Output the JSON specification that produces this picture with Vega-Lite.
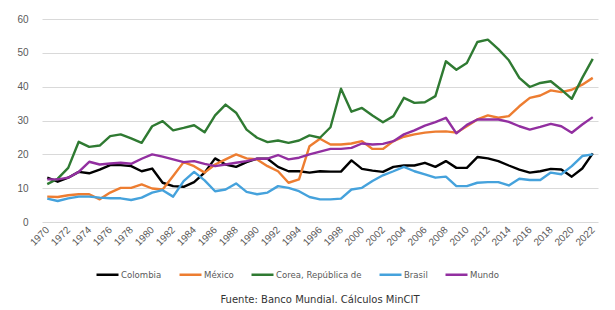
{
  "$schema": "https://vega.github.io/schema/vega-lite/v6.json",
  "autosize": "none",
  "width": 556,
  "height": 203,
  "padding": {"left": 42, "top": 19, "right": 17, "bottom": 88},
  "background": "white",
  "config": {"view": {"stroke": null}},
  "title": {"text": "Fuente: Banco Mundial. Cálculos MinCIT", "orient": "bottom", "anchor": "middle", "font": "DejaVu Sans", "fontSize": 10, "fontWeight": "normal", "color": "#333333", "offset": 15, "frame": "group"},
  "data": {"values": [
{"year":1970,"country":"Colombia","value":13.1},{"year":1970,"country":"México","value":7.5},{"year":1970,"country":"Corea, República de","value":11.2},{"year":1970,"country":"Brasil","value":6.9},{"year":1970,"country":"Mundo","value":12.6},
{"year":1971,"country":"Colombia","value":11.9},{"year":1971,"country":"México","value":7.4},{"year":1971,"country":"Corea, República de","value":12.8},{"year":1971,"country":"Brasil","value":6.2},{"year":1971,"country":"Mundo","value":12.6},
{"year":1972,"country":"Colombia","value":13.1},{"year":1972,"country":"México","value":7.9},{"year":1972,"country":"Corea, República de","value":16.0},{"year":1972,"country":"Brasil","value":7.0},{"year":1972,"country":"Mundo","value":13.1},
{"year":1973,"country":"Colombia","value":14.8},{"year":1973,"country":"México","value":8.2},{"year":1973,"country":"Corea, República de","value":23.7},{"year":1973,"country":"Brasil","value":7.5},{"year":1973,"country":"Mundo","value":14.8},
{"year":1974,"country":"Colombia","value":14.4},{"year":1974,"country":"México","value":8.2},{"year":1974,"country":"Corea, República de","value":22.2},{"year":1974,"country":"Brasil","value":7.5},{"year":1974,"country":"Mundo","value":17.8},
{"year":1975,"country":"Colombia","value":15.5},{"year":1975,"country":"México","value":6.7},{"year":1975,"country":"Corea, República de","value":22.6},{"year":1975,"country":"Brasil","value":7.2},{"year":1975,"country":"Mundo","value":17.0},
{"year":1976,"country":"Colombia","value":16.8},{"year":1976,"country":"México","value":8.7},{"year":1976,"country":"Corea, República de","value":25.4},{"year":1976,"country":"Brasil","value":7.0},{"year":1976,"country":"Mundo","value":17.3},
{"year":1977,"country":"Colombia","value":16.8},{"year":1977,"country":"México","value":10.1},{"year":1977,"country":"Corea, República de","value":25.9},{"year":1977,"country":"Brasil","value":7.0},{"year":1977,"country":"Mundo","value":17.5},
{"year":1978,"country":"Colombia","value":16.5},{"year":1978,"country":"México","value":10.1},{"year":1978,"country":"Corea, República de","value":24.7},{"year":1978,"country":"Brasil","value":6.5},{"year":1978,"country":"Mundo","value":17.2},
{"year":1979,"country":"Colombia","value":15.0},{"year":1979,"country":"México","value":11.1},{"year":1979,"country":"Corea, República de","value":23.4},{"year":1979,"country":"Brasil","value":7.2},{"year":1979,"country":"Mundo","value":18.7},
{"year":1980,"country":"Colombia","value":15.8},{"year":1980,"country":"México","value":9.9},{"year":1980,"country":"Corea, República de","value":28.3},{"year":1980,"country":"Brasil","value":8.7},{"year":1980,"country":"Mundo","value":20.0},
{"year":1981,"country":"Colombia","value":11.6},{"year":1981,"country":"México","value":9.6},{"year":1981,"country":"Corea, República de","value":29.8},{"year":1981,"country":"Brasil","value":9.4},{"year":1981,"country":"Mundo","value":19.3},
{"year":1982,"country":"Colombia","value":10.6},{"year":1982,"country":"México","value":13.6},{"year":1982,"country":"Corea, República de","value":27.1},{"year":1982,"country":"Brasil","value":7.5},{"year":1982,"country":"Mundo","value":18.5},
{"year":1983,"country":"Colombia","value":10.4},{"year":1983,"country":"México","value":17.7},{"year":1983,"country":"Corea, República de","value":27.8},{"year":1983,"country":"Brasil","value":12.1},{"year":1983,"country":"Mundo","value":17.7},
{"year":1984,"country":"Colombia","value":11.8},{"year":1984,"country":"México","value":16.5},{"year":1984,"country":"Corea, República de","value":28.6},{"year":1984,"country":"Brasil","value":14.8},{"year":1984,"country":"Mundo","value":18.0},
{"year":1985,"country":"Colombia","value":14.6},{"year":1985,"country":"México","value":14.6},{"year":1985,"country":"Corea, República de","value":26.5},{"year":1985,"country":"Brasil","value":12.3},{"year":1985,"country":"Mundo","value":17.2},
{"year":1986,"country":"Colombia","value":18.8},{"year":1986,"country":"México","value":17.0},{"year":1986,"country":"Corea, República de","value":31.5},{"year":1986,"country":"Brasil","value":9.1},{"year":1986,"country":"Mundo","value":16.5},
{"year":1987,"country":"Colombia","value":17.0},{"year":1987,"country":"México","value":18.5},{"year":1987,"country":"Corea, República de","value":34.7},{"year":1987,"country":"Brasil","value":9.6},{"year":1987,"country":"Mundo","value":17.0},
{"year":1988,"country":"Colombia","value":16.3},{"year":1988,"country":"México","value":20.0},{"year":1988,"country":"Corea, República de","value":32.3},{"year":1988,"country":"Brasil","value":11.4},{"year":1988,"country":"Mundo","value":17.5},
{"year":1989,"country":"Colombia","value":17.7},{"year":1989,"country":"México","value":18.8},{"year":1989,"country":"Corea, República de","value":27.3},{"year":1989,"country":"Brasil","value":8.9},{"year":1989,"country":"Mundo","value":18.0},
{"year":1990,"country":"Colombia","value":18.7},{"year":1990,"country":"México","value":18.5},{"year":1990,"country":"Corea, República de","value":24.9},{"year":1990,"country":"Brasil","value":8.2},{"year":1990,"country":"Mundo","value":18.7},
{"year":1991,"country":"Colombia","value":18.7},{"year":1991,"country":"México","value":16.5},{"year":1991,"country":"Corea, República de","value":23.6},{"year":1991,"country":"Brasil","value":8.7},{"year":1991,"country":"Mundo","value":18.7},
{"year":1992,"country":"Colombia","value":16.3},{"year":1992,"country":"México","value":15.0},{"year":1992,"country":"Corea, República de","value":24.1},{"year":1992,"country":"Brasil","value":10.6},{"year":1992,"country":"Mundo","value":19.8},
{"year":1993,"country":"Colombia","value":15.0},{"year":1993,"country":"México","value":11.6},{"year":1993,"country":"Corea, República de","value":23.4},{"year":1993,"country":"Brasil","value":10.1},{"year":1993,"country":"Mundo","value":18.5},
{"year":1994,"country":"Colombia","value":15.0},{"year":1994,"country":"México","value":12.6},{"year":1994,"country":"Corea, República de","value":24.1},{"year":1994,"country":"Brasil","value":9.1},{"year":1994,"country":"Mundo","value":19.0},
{"year":1995,"country":"Colombia","value":14.6},{"year":1995,"country":"México","value":22.4},{"year":1995,"country":"Corea, República de","value":25.6},{"year":1995,"country":"Brasil","value":7.4},{"year":1995,"country":"Mundo","value":20.0},
{"year":1996,"country":"Colombia","value":15.0},{"year":1996,"country":"México","value":24.6},{"year":1996,"country":"Corea, República de","value":24.9},{"year":1996,"country":"Brasil","value":6.7},{"year":1996,"country":"Mundo","value":20.8},
{"year":1997,"country":"Colombia","value":14.9},{"year":1997,"country":"México","value":22.9},{"year":1997,"country":"Corea, República de","value":28.0},{"year":1997,"country":"Brasil","value":6.7},{"year":1997,"country":"Mundo","value":21.6},
{"year":1998,"country":"Colombia","value":14.9},{"year":1998,"country":"México","value":22.9},{"year":1998,"country":"Corea, República de","value":39.4},{"year":1998,"country":"Brasil","value":6.9},{"year":1998,"country":"Mundo","value":21.6},
{"year":1999,"country":"Colombia","value":18.2},{"year":1999,"country":"México","value":23.2},{"year":1999,"country":"Corea, República de","value":32.6},{"year":1999,"country":"Brasil","value":9.6},{"year":1999,"country":"Mundo","value":21.9},
{"year":2000,"country":"Colombia","value":15.7},{"year":2000,"country":"México","value":23.9},{"year":2000,"country":"Corea, República de","value":33.7},{"year":2000,"country":"Brasil","value":10.1},{"year":2000,"country":"Mundo","value":23.2},
{"year":2001,"country":"Colombia","value":15.2},{"year":2001,"country":"México","value":21.6},{"year":2001,"country":"Corea, República de","value":31.5},{"year":2001,"country":"Brasil","value":12.1},{"year":2001,"country":"Mundo","value":22.9},
{"year":2002,"country":"Colombia","value":14.8},{"year":2002,"country":"México","value":21.6},{"year":2002,"country":"Corea, República de","value":29.5},{"year":2002,"country":"Brasil","value":13.8},{"year":2002,"country":"Mundo","value":23.1},
{"year":2003,"country":"Colombia","value":16.3},{"year":2003,"country":"México","value":23.9},{"year":2003,"country":"Corea, República de","value":31.3},{"year":2003,"country":"Brasil","value":15.0},{"year":2003,"country":"Mundo","value":23.9},
{"year":2004,"country":"Colombia","value":16.7},{"year":2004,"country":"México","value":25.2},{"year":2004,"country":"Corea, República de","value":36.7},{"year":2004,"country":"Brasil","value":16.3},{"year":2004,"country":"Mundo","value":25.9},
{"year":2005,"country":"Colombia","value":16.7},{"year":2005,"country":"México","value":25.9},{"year":2005,"country":"Corea, República de","value":35.2},{"year":2005,"country":"Brasil","value":15.0},{"year":2005,"country":"Mundo","value":27.1},
{"year":2006,"country":"Colombia","value":17.5},{"year":2006,"country":"México","value":26.4},{"year":2006,"country":"Corea, República de","value":35.4},{"year":2006,"country":"Brasil","value":14.1},{"year":2006,"country":"Mundo","value":28.5},
{"year":2007,"country":"Colombia","value":16.3},{"year":2007,"country":"México","value":26.7},{"year":2007,"country":"Corea, República de","value":37.2},{"year":2007,"country":"Brasil","value":13.1},{"year":2007,"country":"Mundo","value":29.5},
{"year":2008,"country":"Colombia","value":18.0},{"year":2008,"country":"México","value":26.8},{"year":2008,"country":"Corea, República de","value":47.5},{"year":2008,"country":"Brasil","value":13.4},{"year":2008,"country":"Mundo","value":30.8},
{"year":2009,"country":"Colombia","value":16.0},{"year":2009,"country":"México","value":26.4},{"year":2009,"country":"Corea, República de","value":45.0},{"year":2009,"country":"Brasil","value":10.6},{"year":2009,"country":"Mundo","value":26.2},
{"year":2010,"country":"Colombia","value":16.0},{"year":2010,"country":"México","value":28.3},{"year":2010,"country":"Corea, República de","value":47.0},{"year":2010,"country":"Brasil","value":10.6},{"year":2010,"country":"Mundo","value":28.7},
{"year":2011,"country":"Colombia","value":19.2},{"year":2011,"country":"México","value":30.3},{"year":2011,"country":"Corea, República de","value":53.2},{"year":2011,"country":"Brasil","value":11.6},{"year":2011,"country":"Mundo","value":30.3},
{"year":2012,"country":"Colombia","value":18.8},{"year":2012,"country":"México","value":31.5},{"year":2012,"country":"Corea, República de","value":53.9},{"year":2012,"country":"Brasil","value":11.8},{"year":2012,"country":"Mundo","value":30.3},
{"year":2013,"country":"Colombia","value":18.0},{"year":2013,"country":"México","value":30.8},{"year":2013,"country":"Corea, República de","value":51.1},{"year":2013,"country":"Brasil","value":11.8},{"year":2013,"country":"Mundo","value":30.3},
{"year":2014,"country":"Colombia","value":16.7},{"year":2014,"country":"México","value":31.3},{"year":2014,"country":"Corea, República de","value":47.8},{"year":2014,"country":"Brasil","value":10.8},{"year":2014,"country":"Mundo","value":29.6},
{"year":2015,"country":"Colombia","value":15.5},{"year":2015,"country":"México","value":34.2},{"year":2015,"country":"Corea, República de","value":42.6},{"year":2015,"country":"Brasil","value":12.8},{"year":2015,"country":"Mundo","value":28.3},
{"year":2016,"country":"Colombia","value":14.6},{"year":2016,"country":"México","value":36.7},{"year":2016,"country":"Corea, República de","value":39.9},{"year":2016,"country":"Brasil","value":12.4},{"year":2016,"country":"Mundo","value":27.3},
{"year":2017,"country":"Colombia","value":15.0},{"year":2017,"country":"México","value":37.4},{"year":2017,"country":"Corea, República de","value":41.1},{"year":2017,"country":"Brasil","value":12.4},{"year":2017,"country":"Mundo","value":28.1},
{"year":2018,"country":"Colombia","value":15.7},{"year":2018,"country":"México","value":38.9},{"year":2018,"country":"Corea, República de","value":41.6},{"year":2018,"country":"Brasil","value":14.6},{"year":2018,"country":"Mundo","value":29.0},
{"year":2019,"country":"Colombia","value":15.5},{"year":2019,"country":"México","value":38.4},{"year":2019,"country":"Corea, República de","value":39.1},{"year":2019,"country":"Brasil","value":14.1},{"year":2019,"country":"Mundo","value":28.3},
{"year":2020,"country":"Colombia","value":13.4},{"year":2020,"country":"México","value":39.1},{"year":2020,"country":"Corea, República de","value":36.4},{"year":2020,"country":"Brasil","value":16.5},{"year":2020,"country":"Mundo","value":26.4},
{"year":2021,"country":"Colombia","value":15.8},{"year":2021,"country":"México","value":40.6},{"year":2021,"country":"Corea, República de","value":42.6},{"year":2021,"country":"Brasil","value":19.5},{"year":2021,"country":"Mundo","value":28.8},
{"year":2022,"country":"Colombia","value":20.3},{"year":2022,"country":"México","value":42.6},{"year":2022,"country":"Corea, República de","value":48.2},{"year":2022,"country":"Brasil","value":20.0},{"year":2022,"country":"Mundo","value":31.0}
  ]},
  "mark": {"type": "line", "strokeWidth": 2.4, "strokeJoin": "round"},
  "encoding": {
    "x": {"field": "year", "type": "quantitative",
      "scale": {"domain": [1969.5, 2022.5], "nice": false, "zero": false},
      "axis": {"values": [1970,1972,1974,1976,1978,1980,1982,1984,1986,1988,1990,1992,1994,1996,1998,2000,2002,2004,2006,2008,2010,2012,2014,2016,2018,2020,2022],
        "format": "d", "labelAngle": -45, "labelAlign": "right", "labelBaseline": "middle", "labelPadding": 6,
        "grid": false, "ticks": false, "domain": false, "title": null,
        "labelFont": "Liberation Sans", "labelFontSize": 10, "labelColor": "#595959", "labelOverlap": false}},
    "y": {"field": "value", "type": "quantitative",
      "scale": {"domain": [0, 60], "nice": false},
      "axis": {"values": [0,10,20,30,40,50,60], "grid": true, "gridColor": "#d9d9d9", "gridWidth": 1,
        "ticks": false, "domain": false, "title": null, "labelPadding": 14,
        "labelFont": "Liberation Sans", "labelFontSize": 10, "labelColor": "#595959"}},
    "color": {"field": "country", "type": "nominal",
      "scale": {"domain": ["Colombia", "México", "Corea, República de", "Brasil", "Mundo"],
        "range": ["#000000", "#ED7D31", "#2F7A32", "#45A2DC", "#922FA0"]},
      "legend": {"title": null, "orient": "none", "direction": "horizontal", "legendX": 53, "legendY": 243,
        "symbolType": "stroke", "symbolSize": 484, "symbolStrokeWidth": 2.5, "labelOffset": 1, "columnPadding": 12,
        "labelFont": "DejaVu Sans Condensed, Roboto Condensed, Roboto", "labelFontSize": 9.5, "labelColor": "#595959"}}
  }
}
